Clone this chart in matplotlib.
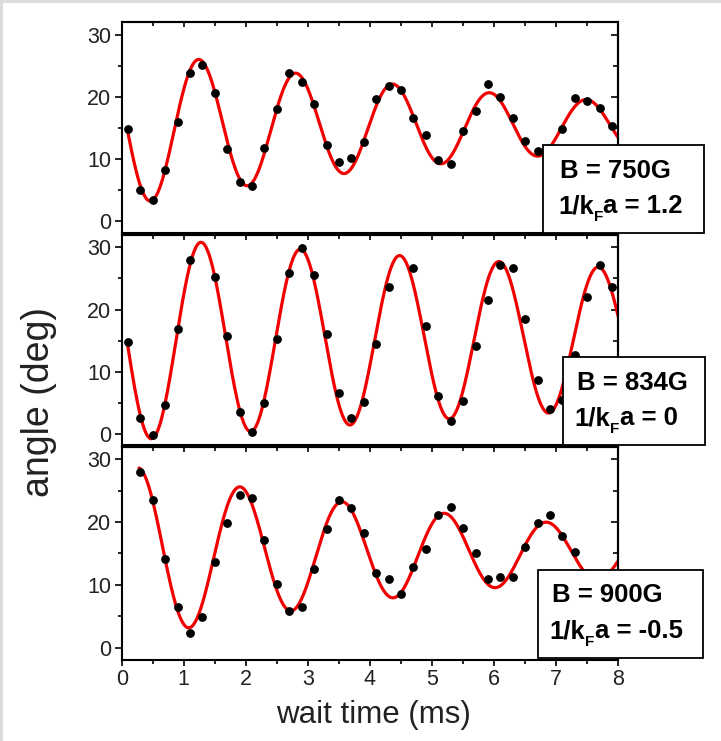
import matplotlib
matplotlib.use("Agg")
import numpy as np
import matplotlib.pyplot as plt
from matplotlib.patches import Rectangle
from matplotlib.ticker import MultipleLocator

plt.rcParams['font.family'] = ['Liberation Sans', 'DejaVu Sans']

# ---------------- data ----------------
t_750 = [0.1, 0.3, 0.5, 0.7, 0.9, 1.1, 1.3, 1.5, 1.7, 1.9, 2.1, 2.3, 2.5, 2.7, 2.9,
         3.1, 3.3, 3.5, 3.7, 3.9, 4.1, 4.3, 4.5, 4.7, 4.9, 5.1, 5.3, 5.5, 5.7, 5.9,
         6.1, 6.3, 6.5, 6.7, 7.1, 7.3, 7.5, 7.7, 7.9]
angle_750 = [14.9, 5.0, 3.5, 8.2, 16.0, 23.9, 25.1, 20.7, 11.6, 6.4, 5.7, 11.8, 18.0, 23.8, 22.4,
             18.8, 12.3, 9.5, 10.2, 12.7, 19.7, 21.7, 21.2, 16.7, 13.9, 9.9, 9.2, 14.6, 17.7, 22.1,
             20.0, 16.7, 12.9, 11.4, 14.8, 19.9, 19.4, 18.3, 15.3]

t_834 = [0.1, 0.3, 0.5, 0.7, 0.9, 1.1, 1.5, 1.7, 1.9, 2.1, 2.3, 2.5, 2.7, 2.9,
         3.1, 3.3, 3.5, 3.7, 3.9, 4.1, 4.3, 4.7, 4.9, 5.1, 5.3, 5.5, 5.7, 5.9,
         6.1, 6.3, 6.5, 6.7, 6.9, 7.1, 7.3, 7.5, 7.7, 7.9]
angle_834 = [14.8, 2.6, -0.2, 4.7, 16.9, 28.0, 25.3, 15.7, 3.5, 0.3, 4.9, 15.2, 25.9, 29.9,
             25.5, 16.0, 6.5, 2.5, 5.1, 14.5, 23.7, 26.7, 17.4, 6.1, 2.0, 5.3, 14.2, 21.6,
             27.1, 26.7, 18.4, 8.7, 3.9, 5.5, 12.7, 22.0, 27.1, 23.7]

t_900 = [0.3, 0.5, 0.7, 0.9, 1.1, 1.3, 1.5, 1.7, 1.9, 2.1, 2.3, 2.5, 2.7, 2.9,
         3.1, 3.3, 3.5, 3.7, 3.9, 4.1, 4.3, 4.5, 4.7, 4.9, 5.1, 5.3, 5.5, 5.7, 5.9,
         6.1, 6.3, 6.5, 6.7, 6.9, 7.1, 7.3]
angle_900 = [28.0, 23.6, 14.1, 6.5, 2.4, 4.9, 13.7, 19.9, 24.3, 23.9, 17.1, 10.2, 5.9, 6.5,
             12.5, 18.9, 23.6, 22.3, 18.2, 11.9, 10.9, 8.5, 12.8, 15.7, 21.1, 22.4, 19.0, 15.1, 10.9,
             11.3, 11.3, 16.0, 19.9, 21.2, 17.8, 15.3]

# damped-cosine fit parameters:
# [offset, amplitude, decay time (ms), period (ms), time of first peak (ms), start time (ms)]
fit_750 = [15.3, 12.88, 6.8, 1.56, 1.25, 0.09]
fit_834 = [15.3, 16.47, 21.6, 1.60, 1.28, 0.09]
fit_900 = [15.1, 14.14, 6.44, 1.645, 0.2675, 0.28]

field_labels = ['B = 750G', 'B = 834G', 'B = 900G']
kfa_values = ['1.2', '0', '-0.5']

x_label = 'wait time (ms)'
y_label = 'angle (deg)'

# ---------------- figure ----------------
W, H = 721, 741
fig = plt.figure(figsize=(W / 100, H / 100), dpi=100)
fig.patch.set_facecolor('white')

def fx(px):
    return px / W

def fy(py):
    return 1 - py / H

x_left, x_right = 121.7, 618.3
panels_px = [(22.3, 233.3), (235.0, 445.5), (446.8, 659.5)]
series = [(t_750, angle_750, fit_750), (t_834, angle_834, fit_834), (t_900, angle_900, fit_900)]

def fit_curve(p, t):
    off, amp, tau, per, tpk, _ = p
    return off + amp * np.exp(-t / tau) * np.cos(2 * np.pi * (t - tpk) / per)

for i, ((top, bot), (tt, aa, p)) in enumerate(zip(panels_px, series)):
    ax = fig.add_axes([fx(x_left), fy(bot), fx(x_right - x_left), (bot - top) / H])
    ax.set_xlim(0, 8)
    ax.set_ylim(-1.9, 32)
    tfit = np.linspace(p[5], 8, 600)
    ax.plot(tfit, fit_curve(p, tfit), color='#f00000', lw=2.3, zorder=2, solid_capstyle='round')
    ax.plot(tt, aa, 'o', color='black', ms=5.3, zorder=3)

    for s in ax.spines.values():
        s.set_linewidth(1.5)
    ax.yaxis.set_major_locator(MultipleLocator(10))
    ax.yaxis.set_minor_locator(MultipleLocator(5))
    ax.xaxis.set_major_locator(MultipleLocator(1))
    ax.xaxis.set_minor_locator(MultipleLocator(0.5))
    ax.tick_params(axis='y', which='major', direction='out', length=5, width=1.2,
                   labelsize=15.5, pad=2.5, colors='black', labelcolor='#222222')
    ax.tick_params(axis='y', which='minor', direction='out', length=2.6, width=1.2)
    if i == 2:
        ax.tick_params(axis='x', which='major', direction='out', length=4.5, width=1.2,
                       labelsize=15.5, pad=2.5, labelcolor='#222222')
        ax.tick_params(axis='x', which='minor', direction='out', length=2.6, width=1.2)
    else:
        ax.tick_params(axis='x', which='both', bottom=False, labelbottom=False)

    secx = ax.secondary_xaxis('top')
    secx.xaxis.set_major_locator(MultipleLocator(1))
    secx.xaxis.set_minor_locator(MultipleLocator(0.5))
    secx.tick_params(axis='x', which='major', direction='in', length=3.4, width=1.2, labeltop=False)
    secx.tick_params(axis='x', which='minor', direction='in', length=3.0, width=1.2)
    secx.spines['top'].set_linewidth(1.5)

    secy = ax.secondary_yaxis('right')
    secy.yaxis.set_major_locator(MultipleLocator(10))
    secy.yaxis.set_minor_locator(MultipleLocator(5))
    secy.tick_params(axis='y', which='major', direction='in', length=5, width=1.2, labelright=False)
    secy.tick_params(axis='y', which='minor', direction='in', length=3.3, width=1.2)
    secy.spines['right'].set_linewidth(1.5)

# annotation boxes (pixel layout) and texts
renderer = fig.canvas.get_renderer()
boxes_px = [(543.3, 704.3, 145.0, 233.3), (563.3, 705.0, 356.7, 445.0), (538.3, 703.3, 570.0, 657.5)]
text_px = [(560.0, 178.3, 213.3), (576.7, 390.0, 425.0), (551.7, 601.7, 638.3)]
FS = 18.5
for (x0, x1, yt, yb), (tx, b1, b2), l1, val in zip(boxes_px, text_px, field_labels, kfa_values):
    fig.add_artist(Rectangle((fx(x0), fy(yb)), fx(x1 - x0), (yb - yt) / H,
                             transform=fig.transFigure, facecolor='white',
                             edgecolor='black', lw=1.3, zorder=5))
    fig.text(fx(tx), fy(b1), l1, fontsize=FS, fontweight='bold', va='baseline', ha='left', zorder=6)
    # second line: "1/k" + subscript "F" + "a = value"
    xs = tx - 2
    t1 = fig.text(fx(xs), fy(b2), '1/k', fontsize=FS, fontweight='bold', va='baseline', ha='left', zorder=6)
    e1 = t1.get_window_extent(renderer)
    t2 = fig.text(e1.x1 / W, fy(b2 + 8), 'F', fontsize=11, fontweight='bold', va='baseline', ha='left', zorder=6)
    e2 = t2.get_window_extent(renderer)
    fig.text(e2.x1 / W, fy(b2), 'a = ' + val, fontsize=FS, fontweight='bold', va='baseline', ha='left', zorder=6)

fig.text(fx(39), fy(402), y_label, rotation=90, fontsize=27, ha='center', va='center', color='#222222')
fig.text(fx(373), fy(715), x_label, fontsize=22.5, ha='center', va='center', color='#222222')

# thin light-gray frame strips at top and left (as in the reference image)
fig.add_artist(Rectangle((0, fy(3)), 1, 3 / H, transform=fig.transFigure, facecolor='#dcdcdc',
                         edgecolor='none', zorder=0))
fig.add_artist(Rectangle((0, 0), fx(3), 1, transform=fig.transFigure, facecolor='#dcdcdc',
                         edgecolor='none', zorder=0))

fig.savefig('out.png', dpi=100, facecolor='white')
